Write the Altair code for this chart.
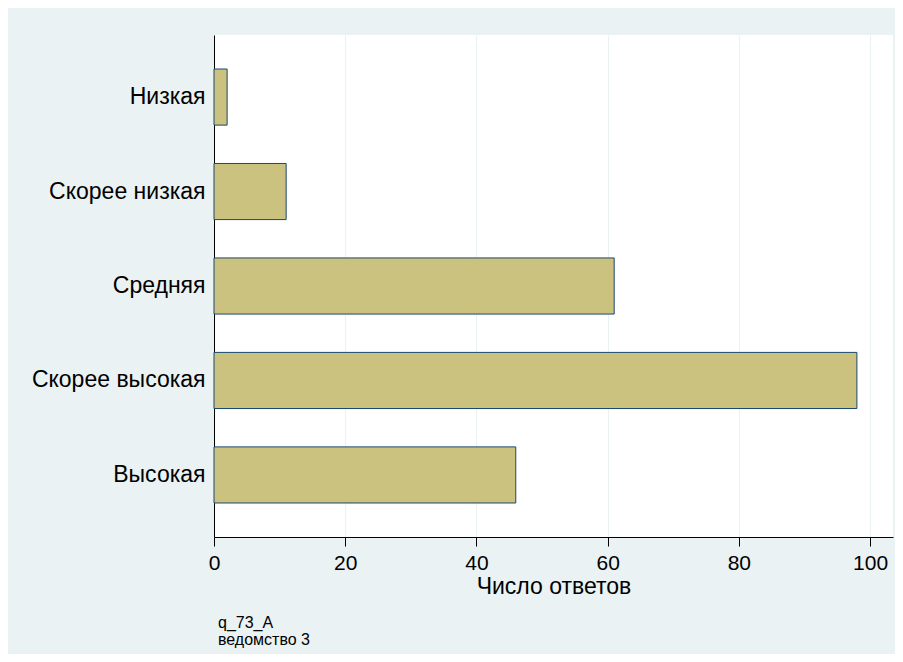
import altair as alt
import pandas as pd

categories = ["Низкая", "Скорее низкая", "Средняя", "Скорее высокая", "Высокая"]
counts = [2, 11, 61, 98, 46]
x_ticks = [0, 20, 40, 60, 80, 100]
x_title = "Число ответов"
notes = "q_73_A\nведомство 3"

df = pd.DataFrame({"cat": categories, "n": counts})
FONT = "Liberation Sans"

bars = alt.Chart(df).mark_bar(
    color="#CAC27E", stroke="#1A476F", strokeWidth=1
).encode(
    x=alt.X("n:Q",
            scale=alt.Scale(domain=[0, 103.5], nice=False, zero=True),
            axis=alt.Axis(values=x_ticks, title=x_title, grid=True,
                          gridColor="#EAF2F3", gridWidth=1.2,
                          domainColor="#000000", domainWidth=1,
                          tickColor="#000000", tickSize=9,
                          labelFontSize=21, labelColor="#000000", labelFont=FONT,
                          labelPadding=6, labelFlush=False,
                          titleFontSize=23, titleFont=FONT, titleFontWeight="normal",
                          titleColor="#000000", titlePadding=2)),
    y=alt.Y("cat:N", sort=categories,
            scale=alt.Scale(paddingInner=0.406, paddingOuter=0.36),
            axis=alt.Axis(title=None, ticks=False, domainColor="#000000",
                          domainWidth=1, labelFontSize=23, labelFont=FONT,
                          labelColor="#000000", labelPadding=9, grid=False))
)

note = alt.Chart(pd.DataFrame({"t": [notes]})).mark_text(
    align="left", baseline="top", font=FONT, fontSize=16, lineBreak="\n",
    color="#000000", lineHeight=17
).encode(
    text="t:N",
    x=alt.value(4),
    y=alt.value(580)
)

chart = alt.layer(bars, note).properties(
    width=679, height=502,
    background="#EAF2F3",
    padding={"left": 206, "top": 27, "right": 2, "bottom": 117},
    autosize=alt.AutoSizeParams(type="none"),
).configure_view(fill="#FFFFFF", stroke=None)

chart.save("out.html", embed_options={"renderer": "svg", "actions": False})
